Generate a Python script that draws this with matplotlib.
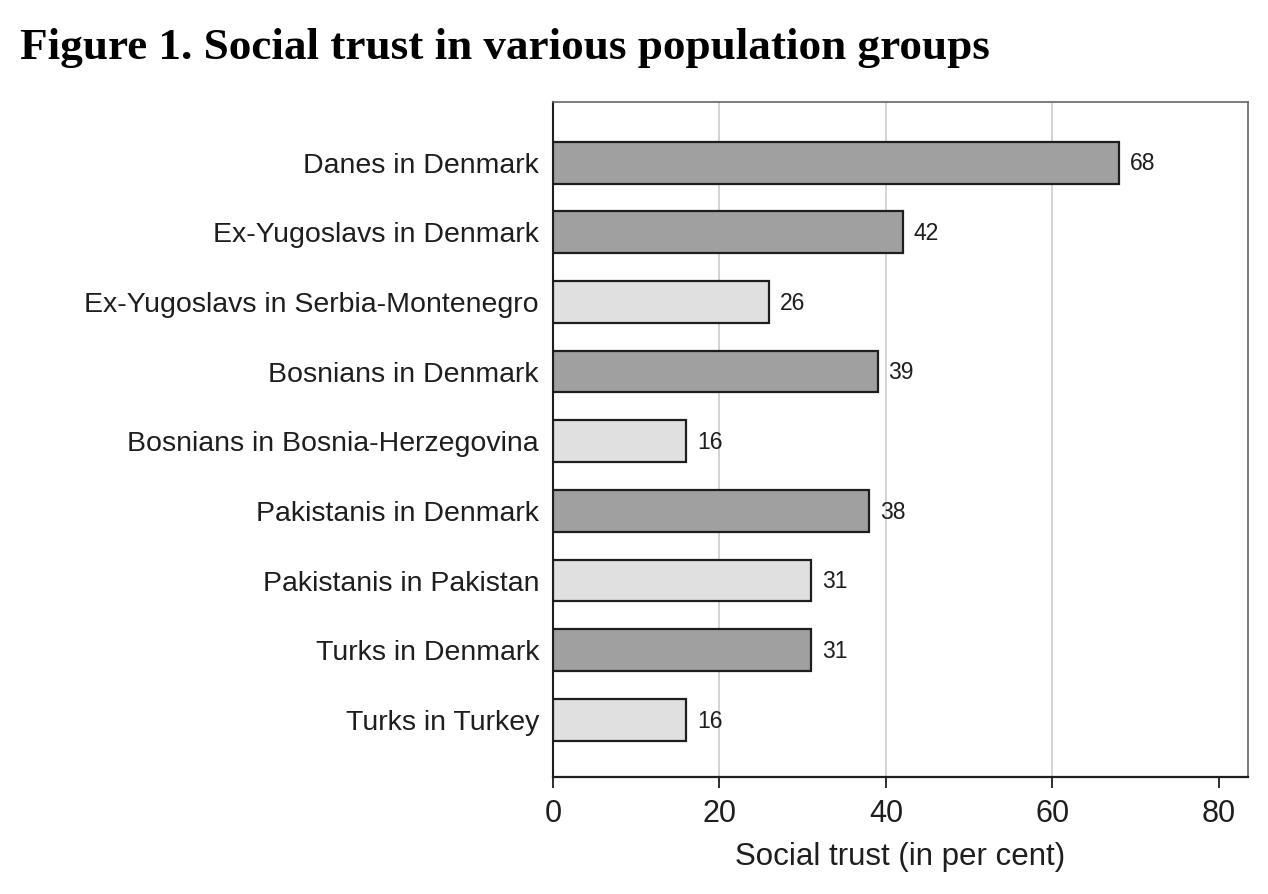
import matplotlib.pyplot as plt

groups = [
    "Danes in Denmark",
    "Ex-Yugoslavs in Denmark",
    "Ex-Yugoslavs in Serbia-Montenegro",
    "Bosnians in Denmark",
    "Bosnians in Bosnia-Herzegovina",
    "Pakistanis in Denmark",
    "Pakistanis in Pakistan",
    "Turks in Denmark",
    "Turks in Turkey",
]
trust = [68, 42, 26, 39, 16, 38, 31, 31, 16]
in_denmark = [True, True, False, True, False, True, False, True, False]
xticks = [0, 20, 40, 60, 80]

dark = "#a0a0a0"
light = "#e0e0e0"
ink = "#1e1e1e"

fig = plt.figure(figsize=(12.68, 8.94), dpi=100)
ax = fig.add_axes([553 / 1268, 1 - 777 / 894, (1248 - 553) / 1268, (777 - 102) / 894])

ypos = list(range(len(groups)))
colors = [dark if d else light for d in in_denmark]
bars = ax.barh(ypos, trust, height=0.6, color=colors, edgecolor=ink, linewidth=1.6, zorder=3)

for b, v in zip(bars, trust):
    ax.text(b.get_width() + 1.3, b.get_y() + b.get_height() / 2 + 0.02, str(v),
            va="center", ha="left", fontsize=16.5, family="Liberation Sans", color=ink, zorder=4)

ax.set_xlim(0, 83.5)
ax.set_ylim(8.82, -0.87)
ax.set_yticks(ypos)
ax.set_yticklabels(groups, fontsize=20.5, family="Liberation Sans", color=ink)
ax.tick_params(axis="y", length=0, pad=10)
ax.set_xticks(xticks)
ax.set_xticklabels([str(t) for t in xticks], fontsize=22, family="Liberation Sans", color=ink)
ax.tick_params(axis="x", length=8, width=1.3, pad=8, direction="out", colors=ink)
ax.set_xlabel("Social trust (in per cent)", fontsize=22.5, family="Liberation Sans", color=ink, labelpad=9)

for g in [20, 40, 60]:
    ax.axvline(g, color="#cccccc", linewidth=1.2, zorder=1)

for side in ["top", "right"]:
    ax.spines[side].set_color("#666666")
    ax.spines[side].set_linewidth(1.2)
ax.spines["left"].set_color(ink)
ax.spines["left"].set_linewidth(1.5)
ax.spines["bottom"].set_color(ink)
ax.spines["bottom"].set_linewidth(1.6)

fig.text(20 / 1268, 1 - 48 / 894, "Figure 1. Social trust in various population groups",
         fontsize=32.5, fontweight="bold", family="Liberation Serif", va="center", ha="left")

fig.savefig("out.png", dpi=100, facecolor="white")
